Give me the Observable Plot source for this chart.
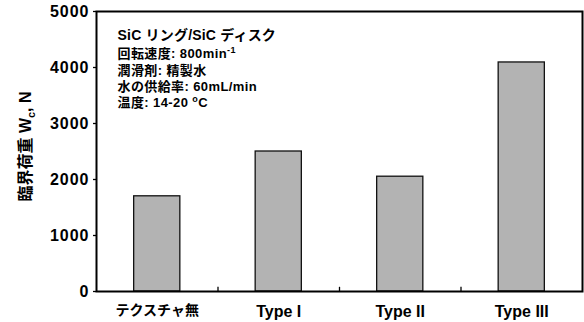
<!DOCTYPE html>
<html><head><meta charset="utf-8">
<script src="https://cdn.jsdelivr.net/npm/d3@7"></script>
<script src="https://cdn.jsdelivr.net/npm/@observablehq/plot@0.6"></script>
<style>
body{margin:0;background:#fff}
svg [aria-label="y-axis tick label"] text{letter-spacing:1px}
</style></head><body><div id="chart"></div>
<script>
const categories = ["テクスチャ無", "Type I", "Type II", "Type III"];
const criticalLoad = [1700, 2500, 2050, 4090];
const yTicks = [0, 1000, 2000, 3000, 4000, 5000];
const boundaries = [0.5, 1.5, 2.5];
const yLabel = "臨界荷重 Wc, N";
const notes = ["SiC リング/SiC ディスク", "回転速度: 800min-1", "潤滑剤: 精製水", "水の供給率: 60mL/min", "温度: 14-20 oC"];

const data = categories.map((c, i) => ({i, c, v: criticalLoad[i]}));
const halfBar = 0.19;
const font = "'Liberation Sans','Noto Sans CJK JP',sans-serif";
const noteDy = [19, 36.8, 53.8, 69.8, 85.8];
const noteSize = [14, 13, 13, 13, 13];

const plot = Plot.plot({
  width: 584, height: 322,
  marginLeft: 96, marginRight: 2, marginTop: 11, marginBottom: 31,
  style: {fontFamily: font, fontWeight: "bold", background: "#fff", color: "#000"},
  x: {type: "linear", domain: [-0.5, 3.5], axis: null},
  y: {domain: [0, 5000], axis: null},
  marks: [
    Plot.rectY(data, {x1: d => d.i - halfBar, x2: d => d.i + halfBar, y1: 0, y2: "v",
      fill: "#b3b3b3", stroke: "#111", strokeWidth: 1.3}),
    Plot.ruleX(boundaries, {y1: 0, y2: 75, stroke: "#000", strokeWidth: 1.3}),
    Plot.frame({stroke: "#000", strokeWidth: 2}),
    Plot.axisY({ticks: yTicks, tickSize: 3, tickPadding: 4, fontSize: 16, fontWeight: "bold",
      tickFormat: d => String(d), label: null, stroke: "#000", strokeWidth: 1.3}),
    Plot.axisX({ticks: [0, 1, 2, 3], tickFormat: i => categories[i], tickSize: 0, tickPadding: 14,
      fontSize: 16, fontWeight: "bold", label: null}),
    Plot.text([yLabel], {frameAnchor: "left", rotate: -90, dx: -71, dy: -5, textAnchor: "middle",
      lineAnchor: "middle", fontSize: 16, fontWeight: "bold", fill: "#000"}),
    ...notes.map((t, k) => Plot.text([t], {frameAnchor: "top-left", dx: 21, dy: noteDy[k],
      textAnchor: "start", lineAnchor: "top", fontSize: noteSize[k], fontWeight: "bold", fill: "#000"}))
  ]
});

function rich(el, parts) {
  el.text(null);
  parts.forEach(p => {
    const ts = el.append("tspan").text(p.t);
    if (p.dy != null) ts.attr("dy", p.dy);
    if (p.fs != null) ts.attr("font-size", p.fs);
  });
}

d3.select(plot).selectAll("text").each(function() {
  const el = d3.select(this);
  const t = this.textContent;
  if (t === categories[0]) el.style("font-size", "14px");
  else if (t === notes[0]) el.style("letter-spacing", "0.2px");
  else if (t === notes[1]) { el.style("letter-spacing", "0.4px"); rich(el, [{t: "回転速度: 800min"}, {t: "-1", dy: -5, fs: 9}]); }
  else if (t === notes[4]) { el.style("letter-spacing", "0.4px"); rich(el, [{t: "温度: 14-20 "}, {t: "o", dy: -5, fs: 9}, {t: "C", dy: 5}]); }
  else if (notes.includes(t)) el.style("letter-spacing", "0.4px");
  else if (t === yLabel) rich(el, [{t: "臨界荷重 W"}, {t: "c", dy: 4, fs: 11}, {t: ", N", dy: -4}]);
});

document.getElementById("chart").appendChild(plot);
</script></body></html>
